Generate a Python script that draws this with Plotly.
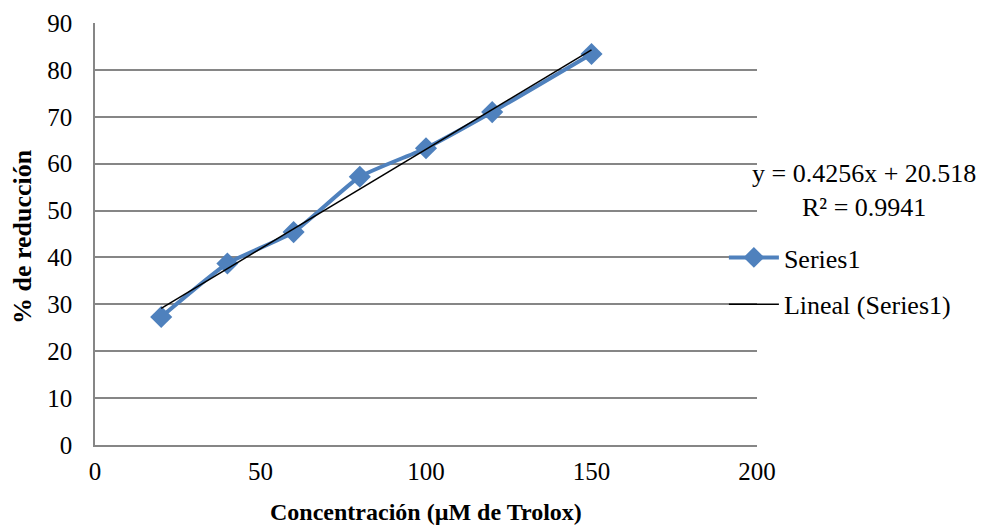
import numpy as np
import plotly.graph_objects as go

# datos
concentracion = [20, 40, 60, 80, 100, 120, 150]
reduccion = [27.3, 38.7, 45.4, 57.2, 63.3, 71.0, 83.4]

x_ticks = [0, 50, 100, 150, 200]
y_ticks = [0, 10, 20, 30, 40, 50, 60, 70, 80, 90]

ecuacion = "y = 0.4256x + 20.518"
r2_texto = "R² = 0.9941"
titulo_x = "Concentración (µM de Trolox)"
titulo_y = "% de reducción"

AZUL = "#4F81BD"
GRIS = "#868686"
FUENTE = "Liberation Serif, Times New Roman, serif"
TAM = 25
TAM_TXT = 26

# recta de tendencia lineal (ajuste de los datos)
m, b = np.polyfit(concentracion, reduccion, 1)
x_tend = [min(concentracion), max(concentracion)]
y_tend = [m * v + b for v in x_tend]

fig = go.Figure()

fig.add_trace(go.Scatter(
    x=concentracion,
    y=reduccion,
    mode="lines+markers",
    name="Series1",
    line=dict(color=AZUL, width=4, shape="spline", smoothing=0.5),
    marker=dict(symbol="diamond", size=17, color=AZUL),
    legendgroup="a",
))

fig.add_trace(go.Scatter(
    x=x_tend,
    y=y_tend,
    mode="lines",
    name="Lineal (Series1)",
    line=dict(color="black", width=1.5),
    legendgroup="b",
))

# ecuación de la tendencia
fig.add_annotation(
    xref="paper", yref="paper",
    x=1.162, y=0.602,
    text=ecuacion + "<br>" + r2_texto,
    showarrow=False,
    align="center",
    xanchor="center", yanchor="middle",
    font=dict(family=FUENTE, size=TAM_TXT, color="black"),
)

# títulos de ejes como anotaciones para fijar su posición
fig.add_annotation(
    xref="paper", yref="paper",
    x=0.5, y=0, yshift=-67,
    text="<b>" + titulo_x + "</b>",
    showarrow=False,
    xanchor="center", yanchor="middle",
    font=dict(family=FUENTE, size=24, color="black"),
)
fig.add_annotation(
    xref="paper", yref="paper",
    x=0, xshift=-73, y=0.5, yshift=-3,
    text="<b>" + titulo_y + "</b>",
    textangle=-90,
    showarrow=False,
    xanchor="center", yanchor="middle",
    font=dict(family=FUENTE, size=TAM_TXT, color="black"),
)

# el navegador deja 8 px de margen en el body
fig.update_layout(
    width=976,
    height=521,
    plot_bgcolor="white",
    paper_bgcolor="white",
    font=dict(family=FUENTE, size=TAM, color="black"),
    margin=dict(l=87, r=227, t=15, b=84),
    showlegend=True,
    legend=dict(
        x=0.95, y=0.50,
        xanchor="left", yanchor="top",
        bgcolor="rgba(0,0,0,0)",
        font=dict(family=FUENTE, size=TAM_TXT),
        tracegroupgap=10,
        itemwidth=50,
    ),
    xaxis=dict(
        range=[0, 200],
        tickvals=x_ticks,
        showgrid=False,
        zeroline=False,
        showline=True,
        linecolor=GRIS,
        linewidth=1.5,
        ticks="",
        ticklabelstandoff=3,
        automargin=False,
    ),
    yaxis=dict(
        range=[0, 90],
        tickvals=y_ticks,
        showgrid=True,
        gridcolor=GRIS,
        gridwidth=1.5,
        zeroline=False,
        showline=True,
        linecolor=GRIS,
        linewidth=1.5,
        ticks="",
        ticklabelstandoff=16,
        automargin=False,
    ),
)

fig.write_html("out.html")
